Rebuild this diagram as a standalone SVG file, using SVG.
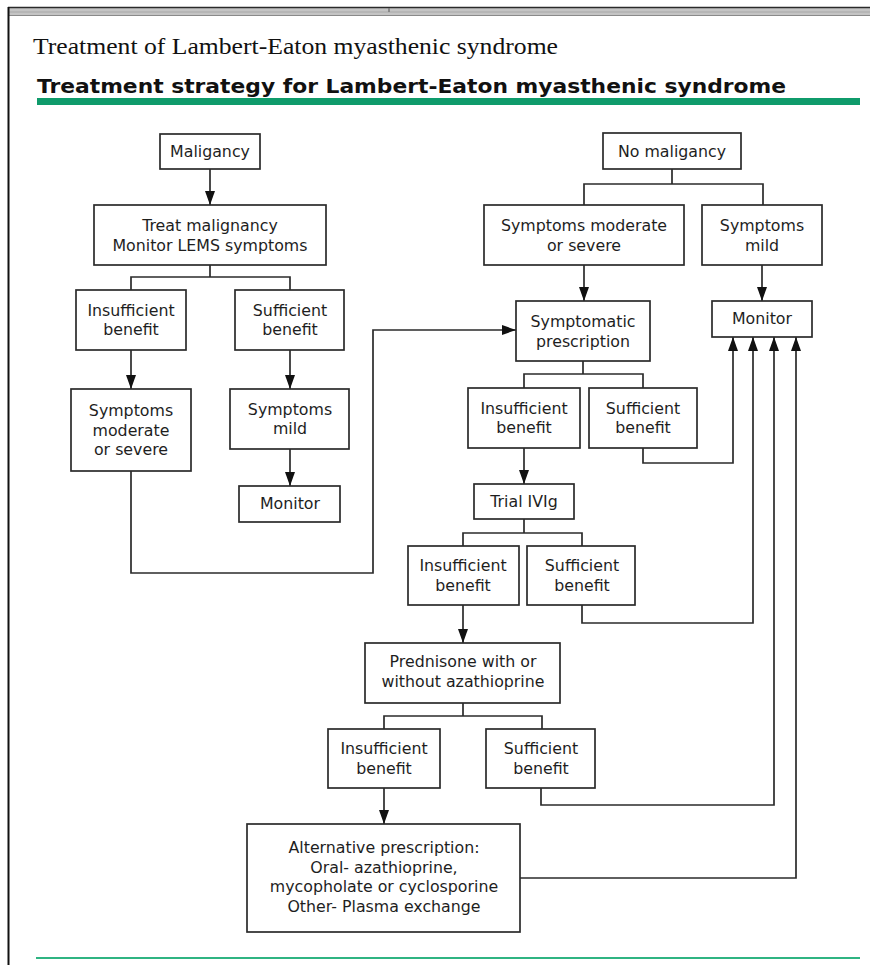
<svg xmlns="http://www.w3.org/2000/svg" width="870" height="965" viewBox="0 0 870 965">
<defs>
<style>
.box{fill:#fff;stroke:#2b2b2b;stroke-width:1.7}
.t{font-family:"DejaVu Sans",Verdana,sans-serif;font-size:15.8px;fill:#1e1e1e;text-anchor:middle}
.c{fill:none;stroke:#2b2b2b;stroke-width:1.7}
.a{fill:none;stroke:#2b2b2b;stroke-width:1.7;marker-end:url(#ah)}
</style>
<marker id="ah" viewBox="0 0 14 10" refX="14" refY="5" markerWidth="14" markerHeight="10" markerUnits="userSpaceOnUse" orient="auto">
<path d="M0,0 L14,5 L0,10 z" fill="#111"/>
</marker>
</defs>
<rect x="0" y="0" width="870" height="965" fill="#fff"/>
<!-- page frame -->
<rect x="8" y="8" width="862" height="8" fill="#c4c4c4"/>
<line x1="8" y1="7.5" x2="870" y2="7.5" stroke="#2a2a2a" stroke-width="1.5"/>
<line x1="8" y1="12" x2="870" y2="12" stroke="#a8a8a8" stroke-width="1"/>
<line x1="8" y1="15.5" x2="870" y2="15.5" stroke="#8a8a8a" stroke-width="1"/>
<line x1="389" y1="8" x2="389" y2="12" stroke="#777" stroke-width="1.5"/>
<line x1="8.5" y1="7" x2="8.5" y2="965" stroke="#111" stroke-width="2"/>
<!-- titles -->
<text x="33" y="54" font-family="Liberation Serif,Times New Roman,serif" font-size="24" fill="#111" textLength="525" lengthAdjust="spacingAndGlyphs">Treatment of Lambert-Eaton myasthenic syndrome</text>
<text x="37" y="93" font-family="DejaVu Sans,Verdana,sans-serif" font-weight="bold" font-size="20" fill="#111" textLength="749" lengthAdjust="spacingAndGlyphs">Treatment strategy for Lambert-Eaton myasthenic syndrome</text>
<rect x="37" y="98" width="823" height="7" fill="#0f9b6b"/>
<line x1="36" y1="958" x2="860" y2="958" stroke="#2fb482" stroke-width="2"/>
<!-- connectors -->
<g id="connectors">
<path class="a" d="M210,169 V205"/>
<path class="c" d="M210,265 V277 M131,290 V277 H290 V290"/>
<path class="a" d="M131,350 V389"/>
<path class="a" d="M290,350 V389"/>
<path class="a" d="M290,449 V486"/>
<path class="a" d="M131,471 V573 H373 V330 H516"/>
<path class="c" d="M672,169 V184 M584,205 V184 H763 V205"/>
<path class="a" d="M584,265 V301"/>
<path class="a" d="M762,265 V301"/>
<path class="c" d="M583,361 V374 M524,388 V374 H643 V388"/>
<path class="a" d="M524,448 V484"/>
<path class="a" d="M643,448 V463 H733 V337"/>
<path class="c" d="M524,519 V533 M463,546 V533 H582 V546"/>
<path class="a" d="M463,605 V643"/>
<path class="a" d="M582,605 V623 H753 V337"/>
<path class="c" d="M463,703 V716 M384,729 V716 H542 V729"/>
<path class="a" d="M384,788 V824"/>
<path class="a" d="M541,788 V805 H774 V337"/>
<path class="a" d="M520,878 H796 V337"/>
</g>
<!-- nodes -->
<g id="maligancy"><rect class="box" x="160" y="134" width="100" height="35"/><text class="t" x="210" y="157">Maligancy</text></g>
<g id="treat"><rect class="box" x="94" y="205" width="232" height="60"/><text class="t" x="210" y="231">Treat malignancy</text><text class="t" x="210" y="250.5">Monitor LEMS symptoms</text></g>
<g id="ins1"><rect class="box" x="76" y="290" width="110" height="60"/><text class="t" x="131" y="315.5">Insufficient</text><text class="t" x="131" y="335">benefit</text></g>
<g id="suf1"><rect class="box" x="235" y="290" width="109" height="60"/><text class="t" x="290" y="315.5">Sufficient</text><text class="t" x="290" y="335">benefit</text></g>
<g id="sevL"><rect class="box" x="71" y="389" width="120" height="82"/><text class="t" x="131" y="416">Symptoms</text><text class="t" x="131" y="435.5">moderate</text><text class="t" x="131" y="455">or severe</text></g>
<g id="mildL"><rect class="box" x="230" y="389" width="119" height="60"/><text class="t" x="290" y="415">Symptoms</text><text class="t" x="290" y="434">mild</text></g>
<g id="monL"><rect class="box" x="239" y="486" width="101" height="36"/><text class="t" x="290" y="509">Monitor</text></g>
<g id="nomal"><rect class="box" x="603" y="133" width="138" height="36"/><text class="t" x="672" y="156.5">No maligancy</text></g>
<g id="sevR"><rect class="box" x="484" y="205" width="200" height="60"/><text class="t" x="584" y="231">Symptoms moderate</text><text class="t" x="584" y="250.5">or severe</text></g>
<g id="mildR"><rect class="box" x="702" y="205" width="120" height="60"/><text class="t" x="762" y="231">Symptoms</text><text class="t" x="762" y="250.5">mild</text></g>
<g id="symp"><rect class="box" x="516" y="301" width="134" height="60"/><text class="t" x="583" y="327">Symptomatic</text><text class="t" x="583" y="346.5">prescription</text></g>
<g id="monR"><rect class="box" x="712" y="301" width="100" height="36"/><text class="t" x="762" y="324">Monitor</text></g>
<g id="ins2"><rect class="box" x="468" y="388" width="112" height="60"/><text class="t" x="524" y="413.5">Insufficient</text><text class="t" x="524" y="433">benefit</text></g>
<g id="suf2"><rect class="box" x="589" y="388" width="108" height="60"/><text class="t" x="643" y="413.5">Sufficient</text><text class="t" x="643" y="433">benefit</text></g>
<g id="ivig"><rect class="box" x="474" y="484" width="100" height="35"/><text class="t" x="524" y="507">Trial IVIg</text></g>
<g id="ins3"><rect class="box" x="408" y="546" width="111" height="59"/><text class="t" x="463" y="571">Insufficient</text><text class="t" x="463" y="590.5">benefit</text></g>
<g id="suf3"><rect class="box" x="527" y="546" width="108" height="59"/><text class="t" x="582" y="571">Sufficient</text><text class="t" x="582" y="590.5">benefit</text></g>
<g id="pred"><rect class="box" x="365" y="643" width="195" height="60"/><text class="t" x="463" y="667">Prednisone with or</text><text class="t" x="463" y="687">without azathioprine</text></g>
<g id="ins4"><rect class="box" x="328" y="729" width="112" height="59"/><text class="t" x="384" y="754">Insufficient</text><text class="t" x="384" y="773.5">benefit</text></g>
<g id="suf4"><rect class="box" x="486" y="729" width="109" height="59"/><text class="t" x="541" y="754">Sufficient</text><text class="t" x="541" y="773.5">benefit</text></g>
<g id="alt"><rect class="box" x="247" y="824" width="273" height="108"/><text class="t" x="384" y="853">Alternative prescription:</text><text class="t" x="384" y="872.5">Oral- azathioprine,</text><text class="t" x="384" y="892">mycopholate or cyclosporine</text><text class="t" x="384" y="911.5">Other- Plasma exchange</text></g>
</svg>
